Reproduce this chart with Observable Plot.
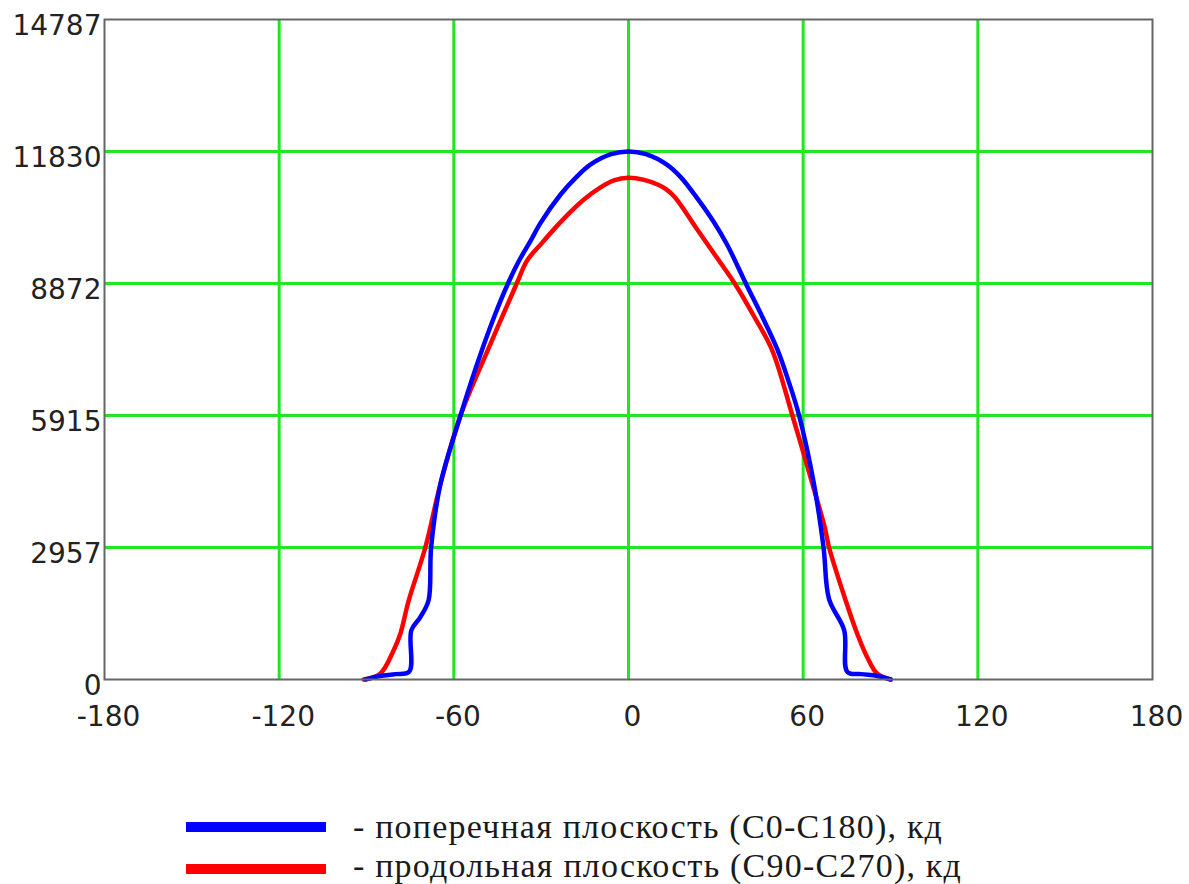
<!DOCTYPE html>
<html>
<head>
<meta charset="utf-8">
<script src="https://cdn.jsdelivr.net/npm/d3@7"></script>
<script src="https://cdn.jsdelivr.net/npm/@observablehq/plot@0.6"></script>
<style>
  html, body { margin: 0; padding: 0; background: #fff; }
  #wrap { position: relative; width: 1189px; height: 884px; overflow: hidden; }
  #chart svg { display: block; }
  .leg { position: absolute; left: 0; width: 1189px; height: 36px; }
  .leg .bar { position: absolute; left: 186px; width: 140px; height: 10px; }
  .leg .txt { position: absolute; left: 353px; font-family: "Liberation Serif", "Times New Roman", serif; font-size: 34px; letter-spacing: 1.2px; color: #1a1a1a; white-space: nowrap; line-height: 36px; top: 0; }
</style>
</head>
<body>
<div id="wrap">
  <div id="chart"></div>
  <div class="leg" id="leg1" style="top:809px;"><div class="bar" style="top:13px;background:#0000ff;"></div><div class="txt"></div></div>
  <div class="leg" id="leg2" style="top:848px;"><div class="bar" style="top:16px;background:#ff0000;"></div><div class="txt"></div></div>
</div>
<script>
// Angles (degrees) and luminous intensity (cd)
const blueAngles = [-90.4, -85.3, -80, -75.3, -74.6, -71.5, -68.7, -67.8, -64.6, -57.7, -54, -50.3, -46, -41.4, -37.7, -33.7, -30.2, -23.4, -18, -13, -6, 0, 6, 13.3, 18, 22.5, 29.3, 33.9, 36.2, 40.3, 46, 51.1, 55, 58.6, 63.7, 67, 68.9, 74.1, 75.2, 80, 85.5, 90.1];
const blueValues = [0, 80, 120, 180, 1100, 1400, 1770, 2957, 4383, 5915, 6680, 7390, 8150, 8872, 9370, 9820, 10230, 10860, 11250, 11540, 11770, 11830, 11770, 11530, 11250, 10880, 10250, 9740, 9440, 8872, 8120, 7400, 6680, 5915, 4380, 2957, 1800, 1100, 170, 120, 80, 0];

const redAngles = [-91, -85.3, -80.7, -78.4, -75.5, -69.8, -64.6, -57.7, -48.4, -38.4, -34.8, -30, -25, -20, -15, -10, -5, 0, 5, 10, 13, 16, 23.5, 29.3, 36.5, 43, 49.4, 56.3, 63.2, 67.4, 68.9, 74.6, 78.6, 82, 85.5, 90.1];
const redValues = [0, 130, 650, 1020, 1770, 2957, 4380, 5915, 7370, 8872, 9390, 9760, 10130, 10470, 10770, 11010, 11180, 11240, 11200, 11090, 10980, 10800, 10095, 9550, 8872, 8150, 7370, 5915, 4380, 3410, 2957, 1770, 1020, 500, 128, 0];

const xTicks = [-180, -120, -60, 0, 60, 120, 180];
const xGrid = [-120, -60, 0, 60, 120];
const yTicks = [0, 2957, 5915, 8872, 11830, 14787];
const yGrid = [2957, 5915, 8872, 11830];

const seriesNames = ["- поперечная плоскость (C0-C180), кд", "- продольная плоскость (C90-C270), кд"];
const seriesColors = ["#0000ff", "#ff0000"];

const blue = blueAngles.map((a, i) => ({angle: a, value: blueValues[i]}));
const red = redAngles.map((a, i) => ({angle: a, value: redValues[i]}));

const chart = Plot.plot({
  width: 1189,
  height: 760,
  marginLeft: 104,
  marginRight: 37,
  marginTop: 19,
  marginBottom: 81,
  style: {fontFamily: "DejaVu Sans", background: "#fff"},
  x: {domain: [-180, 180], label: null},
  y: {domain: [0, 14787], label: null},
  marks: [
    Plot.gridX(xGrid, {stroke: "#22e622", strokeOpacity: 1, strokeWidth: 3}),
    Plot.gridY(yGrid, {stroke: "#22e622", strokeOpacity: 1, strokeWidth: 3}),
    Plot.line(red, {x: "angle", y: "value", stroke: seriesColors[1], strokeWidth: 4.5, curve: "catmull-rom"}),
    Plot.line(blue, {x: "angle", y: "value", stroke: seriesColors[0], strokeWidth: 4.5, curve: "catmull-rom"}),
    Plot.frame({stroke: "#666", strokeWidth: 2}),
    Plot.axisY(yTicks, {tickSize: 0, tickPadding: 3, fontSize: 28, dy: 7, fill: "#222", label: null, tickFormat: d => String(d)}),
    Plot.axisX(xTicks, {tickSize: 0, tickPadding: 27, fontSize: 28, dx: 4, fill: "#222", label: null, tickFormat: d => String(d)})
  ]
});
document.getElementById("chart").appendChild(chart);
document.querySelector("#leg1 .txt").textContent = seriesNames[0];
document.querySelector("#leg2 .txt").textContent = seriesNames[1];
</script>
</body>
</html>
